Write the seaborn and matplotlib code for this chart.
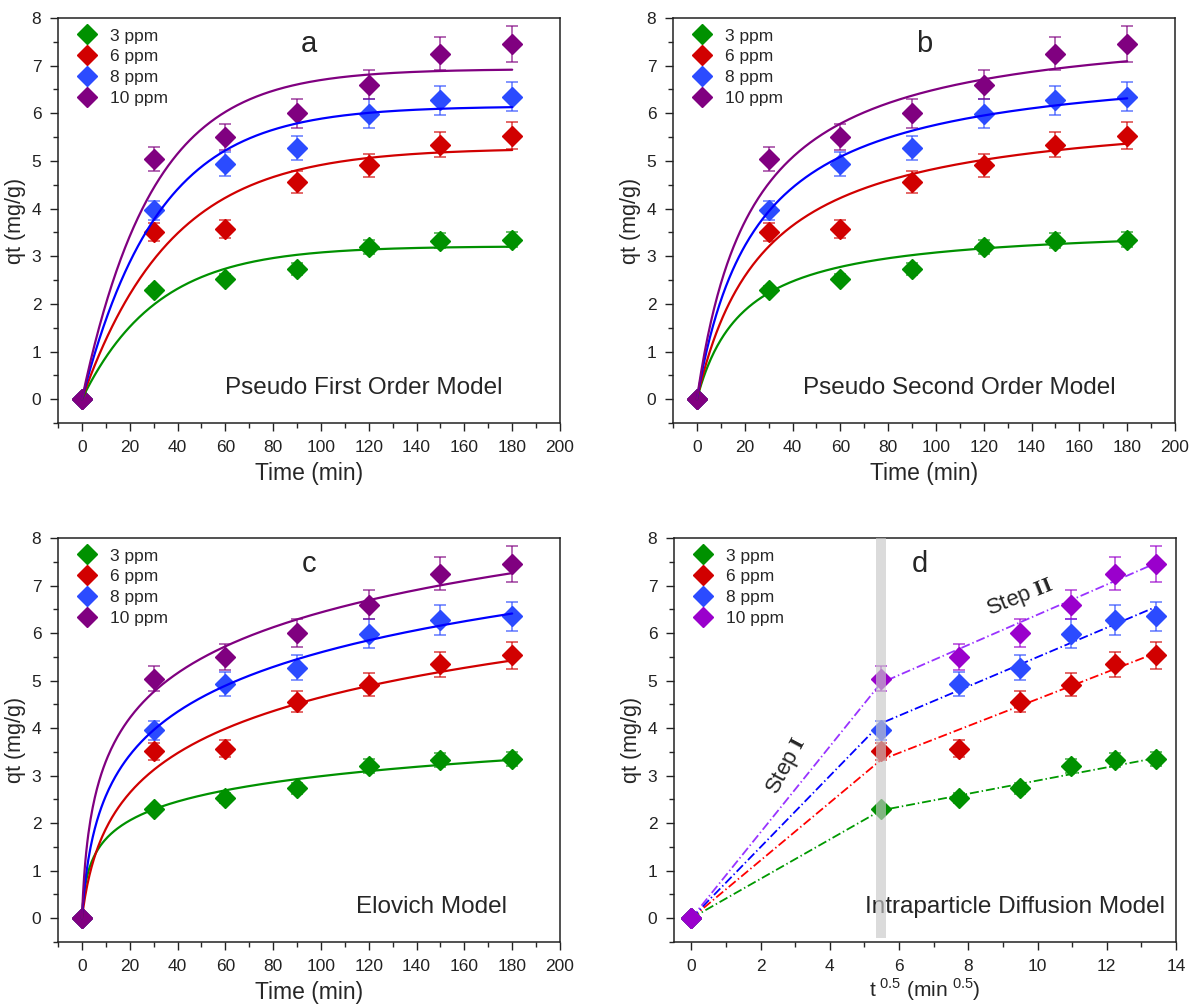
import numpy as np
import pandas as pd
import matplotlib
matplotlib.use("Agg")
import matplotlib.pyplot as plt
import seaborn as sns
from matplotlib.ticker import MultipleLocator
from matplotlib.lines import Line2D

sns.set_theme(style="ticks")
plt.rcParams['font.family'] = ['Liberation Sans', 'DejaVu Sans']
plt.rcParams['mathtext.fontset'] = 'custom'
plt.rcParams['mathtext.rm'] = 'Liberation Sans'
plt.rcParams['mathtext.bf'] = 'Liberation Serif:bold'

# Dados experimentais
tempo = [0, 30, 60, 90, 120, 150, 180]
conc = ['3 ppm', '6 ppm', '8 ppm', '10 ppm']
q_3 = [0, 2.29, 2.53, 2.73, 3.20, 3.33, 3.35]
q_6 = [0, 3.51, 3.57, 4.56, 4.91, 5.34, 5.53]
q_8 = [0, 3.96, 4.93, 5.27, 5.99, 6.27, 6.35]
q_10 = [0, 5.04, 5.50, 6.00, 6.60, 7.25, 7.45]
err_3 = [0, 0.08, 0.10, 0.12, 0.15, 0.15, 0.15]
err_6 = [0, 0.18, 0.18, 0.23, 0.24, 0.26, 0.28]
err_8 = [0, 0.20, 0.25, 0.26, 0.30, 0.31, 0.31]
err_10 = [0, 0.26, 0.28, 0.30, 0.31, 0.35, 0.38]

# Parametros dos modelos
pfo_qe = [3.21, 5.27, 6.15, 6.93]
pfo_k1 = [0.032, 0.027, 0.0315, 0.034]
pso_qe = [3.68, 6.20, 7.18, 8.00]
pso_k2 = [0.0139, 0.00574, 0.00564, 0.00543]
elo_a = [0.941, 0.408, 0.734, 1.31]
elo_b = [1.70, 0.74, 0.71, 0.705]

# Difusao intraparticula: qt nas quebras das retas (t = 30 e t = 180)
step1_q = [2.27, 3.33, 4.10, 4.95]
step2_q = [3.37, 5.58, 6.55, 7.47]

q_all = [q_3, q_6, q_8, q_10]
err_all = [err_3, err_6, err_8, err_10]

cores = ['#009100', '#D10000', '#2B4BFF', '#800080']
cores_linha = ['#009100', '#D10000', '#0000FF', '#800080']
cores_d = ['#009100', '#D10000', '#2B4BFF', '#9A00CC']
cores_linha_d = ['#009900', '#FF0000', '#0000FF', '#9933FF']

t_fit = np.linspace(0, 180, 400)


def modelo_pfo(t, i):
    return pfo_qe[i] * (1 - np.exp(-pfo_k1[i] * t))


def modelo_pso(t, i):
    return pso_qe[i] ** 2 * pso_k2[i] * t / (1 + pso_qe[i] * pso_k2[i] * t)


def modelo_elovich(t, i):
    return np.log(1 + elo_a[i] * elo_b[i] * t) / elo_b[i]


W, H = 1193, 1005
fig = plt.figure(figsize=(W / 100, H / 100), dpi=100)


def criar_eixo(left, top, right, bottom):
    return fig.add_axes([left / W, 1 - bottom / H, (right - left) / W, (bottom - top) / H])


ax_a = criar_eixo(58, 18, 560, 423)
ax_b = criar_eixo(673, 18, 1175, 423)
ax_c = criar_eixo(58, 538, 560, 942)
ax_d = criar_eixo(674, 538, 1176, 942)


def estilo(ax, xmax, xmajor, xminor, xmin):
    ax.set_xlim(xmin, xmax)
    ax.set_ylim(-0.5, 8)
    ax.xaxis.set_major_locator(MultipleLocator(xmajor))
    ax.xaxis.set_minor_locator(MultipleLocator(xminor))
    ax.yaxis.set_major_locator(MultipleLocator(1))
    ax.yaxis.set_minor_locator(MultipleLocator(0.5))
    ax.tick_params(which='major', direction='out', length=6, width=1, labelsize=12.5, pad=6,
                   colors='#222222', top=False, right=False, bottom=True, left=True)
    ax.tick_params(which='minor', direction='out', length=3.5, width=1,
                   top=False, right=False, bottom=True, left=True)
    for s in ax.spines.values():
        s.set_color('#222222')
        s.set_linewidth(1.1)
    ax.set_ylabel('qt (mg/g)', fontsize=15.5, labelpad=4)
    ax.grid(False)
    handles = [Line2D([], [], marker='D', ls='none', ms=10, color=c) for c in
               (cores_d if ax is ax_d else cores)]
    ax.legend(handles, conc, loc='upper left', bbox_to_anchor=(0.02, 1.0), frameon=False,
              fontsize=12.5, handlelength=1.0, handletextpad=0.8, labelspacing=0.32,
              borderaxespad=0.2)


def pontos(ax, x, cols):
    for i in range(4):
        ax.errorbar(x, q_all[i], yerr=err_all[i], fmt='D', ms=10, color=cols[i], mec=cols[i],
                    ecolor=matplotlib.colors.to_rgba(cols[i], 0.75), elinewidth=1.1,
                    capsize=4, capthick=1.1, zorder=3)


modelos = [(ax_a, modelo_pfo, 'a', 'Pseudo First Order Model', 0.61),
           (ax_b, modelo_pso, 'b', 'Pseudo Second Order Model', 0.57),
           (ax_c, modelo_elovich, 'c', 'Elovich Model', 0.745)]

for ax, func, letra, nome, xpos in modelos:
    pontos(ax, tempo, cores)
    curvas = pd.concat([pd.DataFrame({'t': t_fit, 'qt': func(t_fit, i), 'conc': conc[i]})
                        for i in range(4)])
    sns.lineplot(data=curvas, x='t', y='qt', hue='conc', palette=cores_linha, legend=False,
                 lw=1.6, ax=ax, zorder=4)
    estilo(ax, 200, 20, 10, -10)
    ax.set_xlabel('Time (min)', fontsize=16.5, labelpad=5)
    ax.text(0.5, 0.935, letra, transform=ax.transAxes, fontsize=21, ha='center', va='center')
    ax.text(xpos, 0.087, nome, transform=ax.transAxes, fontsize=17.5, ha='center', va='center')

# Painel d - difusao intraparticula
x_d = np.sqrt(np.array(tempo))
pontos(ax_d, x_d, cores_d)
for i in range(4):
    seg = pd.DataFrame({'x': [x_d[0], x_d[1], x_d[-1]], 'y': [0, step1_q[i], step2_q[i]]})
    sns.lineplot(data=seg, x='x', y='y', color=cores_linha_d[i], lw=1.3,
                 ls=(0, (5, 1.6, 0.8, 1.6)), ax=ax_d, zorder=2, sort=False)
ax_d.fill_between([x_d[1] - 0.14, x_d[1] + 0.14], -0.42, 8, color='#C8C8C8', alpha=0.65,
                  lw=0, zorder=5)
estilo(ax_d, 14, 2, 1, -0.5)
ax_d.set_xlabel(r't$^{\ 0.5}$ (min$^{\ 0.5}$)', fontsize=15, labelpad=2)
ax_d.text(0.49, 0.935, 'd', transform=ax_d.transAxes, fontsize=21, ha='center', va='center')
ax_d.text(0.68, 0.087, 'Intraparticle Diffusion Model', transform=ax_d.transAxes,
          fontsize=17.5, ha='center', va='center')
ax_d.text(2.75, 3.2, r'Step $\mathbf{I}$', fontsize=16, rotation=62, ha='center', va='center')
ax_d.text(9.5, 6.75, r'Step $\mathbf{II}$', fontsize=16, rotation=22, ha='center', va='center')

fig.savefig('out.png', dpi=100)
